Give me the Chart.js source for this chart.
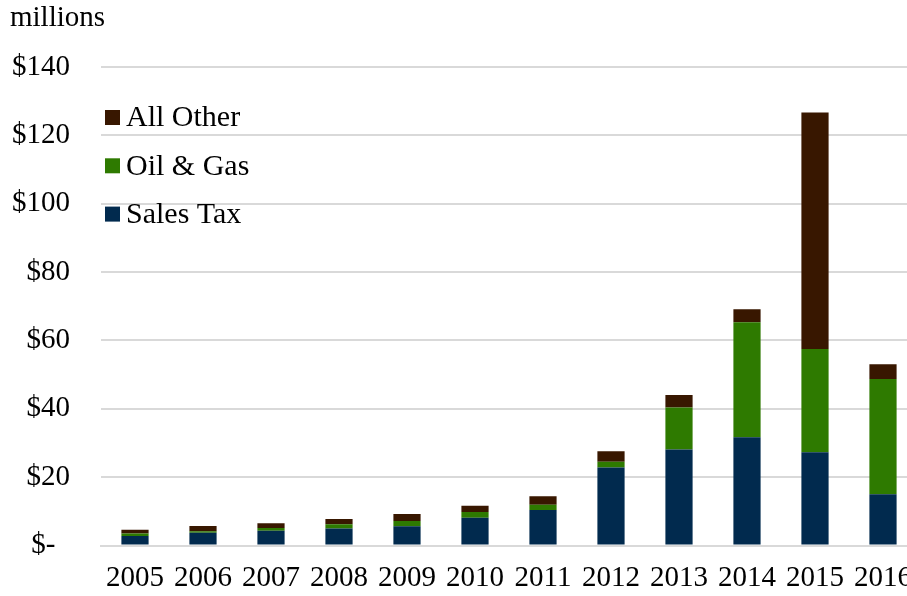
<!DOCTYPE html>
<html>
<head>
<meta charset="utf-8">
<script src="https://cdn.jsdelivr.net/npm/chart.js@4"></script>
<style>
    html, body { margin: 0; padding: 0; background: #fff; overflow: hidden; }
    #frame { width: 907px; height: 596px; overflow: hidden; }
    canvas { display: block; }
</style>
</head>
<body>
<div id="frame"><canvas id="revenue" width="918" height="596"></canvas></div>
<script>
var years = ['2005', '2006', '2007', '2008', '2009', '2010', '2011', '2012', '2013', '2014', '2015', '2016'];

// $ millions per year
var salesTax = [2.8, 3.7, 4.3, 5.0, 5.6, 8.1, 10.4, 22.8, 28.1, 31.7, 27.3, 15.0];
var oilGas   = [0.7, 0.5, 0.8, 1.2, 1.55, 1.7, 1.55, 1.7, 12.3, 33.6, 30.2, 33.7];
var allOther = [1.1, 1.5, 1.4, 1.55, 2.05, 1.85, 2.45, 3.1, 3.6, 3.8, 69.2, 4.3];

var yTicks = [0, 20, 40, 60, 80, 100, 120, 140];

var serif = '"Liberation Serif", "Times New Roman", serif';

// legend sits inside the plot, top-left, newest series first
var innerLegend = {
    id: 'innerLegend',
    afterDraw: function (chart) {
        var c = chart.ctx;
        var sets = chart.data.datasets.slice().reverse();
        c.save();
        c.font = '30px ' + serif;
        c.textBaseline = 'middle';
        c.textAlign = 'left';
        sets.forEach(function (ds, i) {
            var y = 117.5 + i * 48.3;
            c.fillStyle = ds.backgroundColor;
            c.fillRect(105, y - 7.5, 15, 15);
            c.fillStyle = '#000';
            c.fillText(ds.label, 126, y + 1);
        });
        c.restore();
    }
};

var ctx = document.getElementById('revenue').getContext('2d');

// canvas is a bit wider than the frame, so the last year label gets cut off;
// x labels use a tall line instead of tick padding to sit low under the axis
var chart = new Chart(ctx, {
    type: 'bar',
    data: {
        labels: years,
        datasets: [
            { label: 'Sales Tax', data: salesTax, backgroundColor: '#012A4E' },
            { label: 'Oil & Gas', data: oilGas, backgroundColor: '#2E7A00' },
            { label: 'All Other', data: allOther, backgroundColor: '#381700' }
        ]
    },
    options: {
        responsive: false,
        animation: false,
        layout: { padding: { left: 10, right: 1, top: 0, bottom: -14.3 } },
        datasets: {
            bar: { barPercentage: 0.4, categoryPercentage: 1 }
        },
        plugins: {
            legend: { display: false },
            tooltip: { enabled: false },
            title: {
                display: true,
                text: 'millions',
                align: 'start',
                color: '#000',
                font: { family: serif, size: 29, weight: 'normal', lineHeight: 1.2 },
                padding: { top: 0.6, bottom: 31.6 }
            }
        },
        scales: {
            x: {
                stacked: true,
                grid: { display: false, drawTicks: false },
                border: { display: true, color: '#d9d9d9', width: 2 },
                ticks: {
                    color: '#000',
                    padding: 0,
                    maxRotation: 0,
                    autoSkip: false,
                    font: { family: serif, size: 29, lineHeight: '64.8px' }
                }
            },
            y: {
                stacked: true,
                min: 0,
                max: 140,
                afterFit: function (scale) { scale.width = 91; },
                afterBuildTicks: function (scale) {
                    scale.ticks = yTicks.map(function (v) { return { value: v }; });
                },
                grid: { color: '#d9d9d9', lineWidth: 2, drawTicks: false },
                border: { display: false },
                ticks: {
                    color: '#000',
                    padding: 31,
                    font: { family: serif, size: 29 },
                    callback: function (v) { return v === 0 ? '$-  ' : '$' + v; }
                }
            }
        }
    },
    plugins: [innerLegend]
});
</script>
</body>
</html>
